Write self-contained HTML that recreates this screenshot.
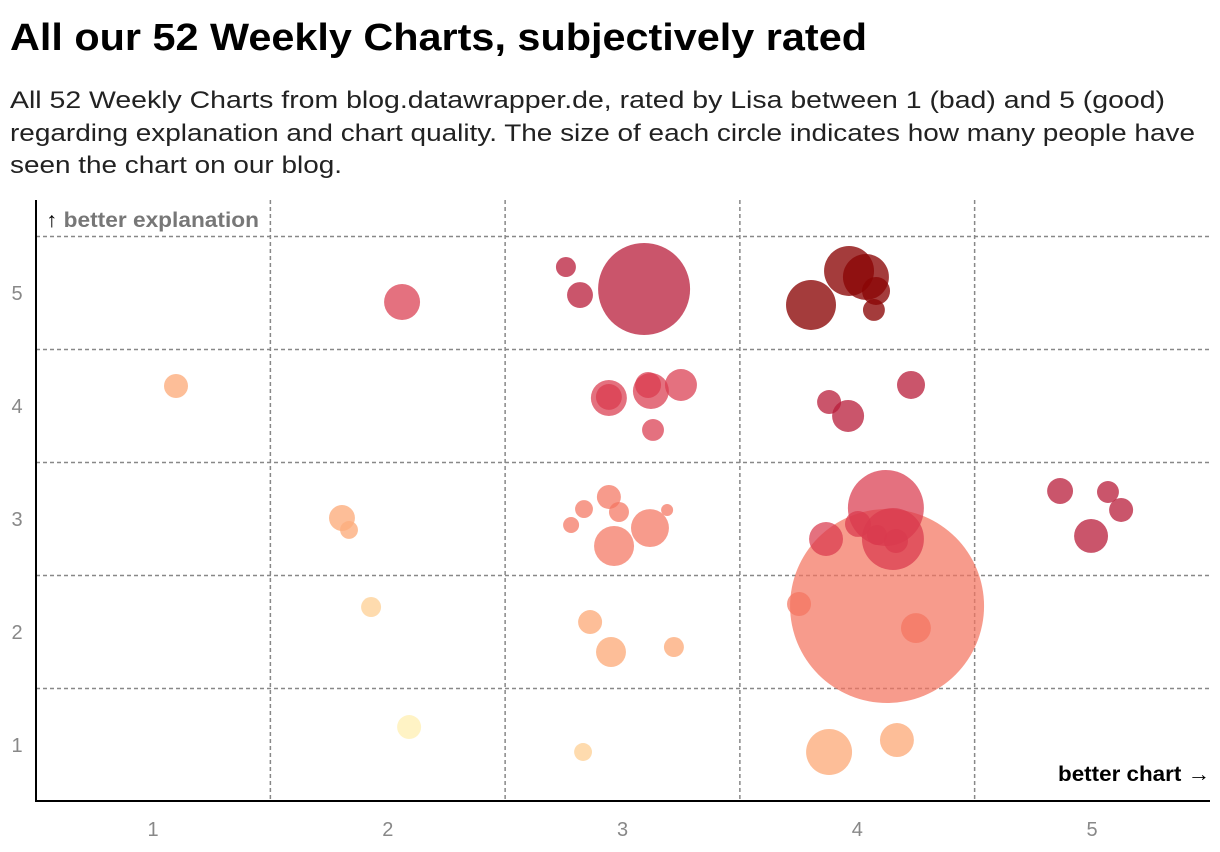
<!DOCTYPE html>
<html><head><meta charset="utf-8"><style>
html,body{margin:0;padding:0;background:#fff;}
svg{display:block;font-family:"Liberation Sans",Arial,sans-serif;}
</style></head><body>
<svg id="chart" width="1220" height="852" viewBox="0 0 1220 852" xmlns="http://www.w3.org/2000/svg">
<text x="10" y="50" font-size="38" font-weight="bold" fill="#000" textLength="857" lengthAdjust="spacingAndGlyphs">All our 52 Weekly Charts, subjectively rated</text>
<g font-size="24" fill="#222">
<text x="10" y="108" textLength="1155" lengthAdjust="spacingAndGlyphs">All 52 Weekly Charts from blog.datawrapper.de, rated by Lisa between 1 (bad) and 5 (good)</text>
<text x="10" y="141" textLength="1185" lengthAdjust="spacingAndGlyphs">regarding explanation and chart quality. The size of each circle indicates how many people have</text>
<text x="10" y="173" textLength="332" lengthAdjust="spacingAndGlyphs">seen the chart on our blog.</text>
</g>
<g id="grid"></g>
<g id="marks"></g>
<g id="axes"></g>
<text x="46" y="227" font-size="21" font-weight="bold" fill="#777" textLength="213" lengthAdjust="spacingAndGlyphs"><tspan fill="#000">↑</tspan> better explanation</text>
<text x="1058" y="781" font-size="21" font-weight="bold" fill="#000" textLength="152" lengthAdjust="spacingAndGlyphs">better chart →</text>
</svg>
<script>
// chart rating (with jitter), explanation rating (with jitter), views (size), score group
const chartRating = [1.098,2.061,2.759,2.819,3.092,3.803,3.965,4.037,4.080,4.071,
 2.942,2.942,3.121,3.109,3.249,3.130,3.880,3.961,4.229,
 1.805,1.835,2.836,2.942,2.985,2.781,2.964,3.117,3.190,
 3.867,4.122,4.003,4.152,4.084,4.165,4.864,5.068,5.124,4.996,
 1.929,2.862,2.951,3.219,4.127,3.752,4.250,
 2.091,2.832,3.880,4.169];
const explRating = [4.177,4.920,5.230,4.982,5.035,4.894,5.195,5.142,5.018,4.850,
 4.071,4.080,4.133,4.186,4.186,3.788,4.035,3.912,4.186,
 3.009,2.903,3.088,3.195,3.062,2.947,2.761,2.920,3.080,
 2.823,3.097,2.956,2.823,2.858,2.805,3.248,3.239,3.080,2.850,
 2.221,2.088,1.823,1.867,2.230,2.248,2.035,
 1.159,0.938,0.938,1.044];
const views = [36,81,25,42,529,156,156,132,49,30,
 81,42,81,42,64,30,36,64,49,
 42,20,20,36,25,16,100,90,9,
 72,361,42,240,25,36,42,30,36,72,
 25,36,56,25,2352,36,56,
 36,20,132,72];
const scoreGroup = [5,7,8,8,8,9,9,9,9,9,
 7,7,7,7,7,7,8,8,8,
 5,5,6,6,6,6,6,6,6,
 7,7,7,7,7,7,8,8,8,8,
 4,5,5,5,6,6,6,
 3,4,5,5];
const xTicks = ["1","2","3","4","5"];
const yTicks = ["1","2","3","4","5"];
const groupColors = {3:"#fff2bf",4:"#fed5a0",5:"#fdae7e",6:"#f47560",7:"#d93a4e",8:"#b81c3a",9:"#8a0505"};
const groupAlpha = {3:0.9,4:0.85,5:0.8,6:0.72,7:0.72,8:0.75,9:0.78};

const NS="http://www.w3.org/2000/svg";
const L=36,R=1210,T=200,B=801;
function xs(v){return 153+(v-1)*234.75;}
function ys(v){return 745-(v-1)*113;}
function rs(v){return 2*Math.sqrt(v);}
function mk(tag,attrs,parent){const e=document.createElementNS(NS,tag);for(const k in attrs)e.setAttribute(k,attrs[k]);parent.appendChild(e);return e;}
const grid=document.getElementById('grid'),marks=document.getElementById('marks'),axes=document.getElementById('axes');
for(let i=0;i<4;i++){
  const x=xs(i+1.5);
  const l=mk('line',{x1:x,x2:x,y1:T,y2:B,stroke:'#888','stroke-width':1.5,'stroke-dasharray':'4 3'},grid);
  
  
}
for(let i=0;i<5;i++){
  const y=ys(i+1.5);
  const l=mk('line',{x1:L,x2:R,y1:y,y2:y,stroke:'#888','stroke-width':1.5,'stroke-dasharray':'4 3'},grid);
  
  
}
const order=chartRating.map((_,i)=>i).sort((a,b)=>views[b]-views[a]);
order.forEach(i=>{
  const c=mk('circle',{cx:xs(chartRating[i]),cy:ys(explRating[i]),r:rs(views[i]),fill:groupColors[scoreGroup[i]],'fill-opacity':groupAlpha[scoreGroup[i]]},marks);
  
  
});
const ya=mk('line',{x1:L,x2:L,y1:T,y2:B+1,stroke:'#000','stroke-width':2},axes);


const xa=mk('line',{x1:L,x2:R,y1:B,y2:B,stroke:'#000','stroke-width':2},axes);


xTicks.forEach((t,i)=>{
  const e=mk('text',{x:xs(i+1),y:836,'font-size':20,fill:'#888','text-anchor':'middle'},axes);
  e.textContent=t;
  
  
});
yTicks.forEach((t,i)=>{
  const e=mk('text',{x:17,y:ys(i+1)+7,'font-size':20,fill:'#888','text-anchor':'middle'},axes);
  e.textContent=t;
  
  
});
</script>
</body></html>
